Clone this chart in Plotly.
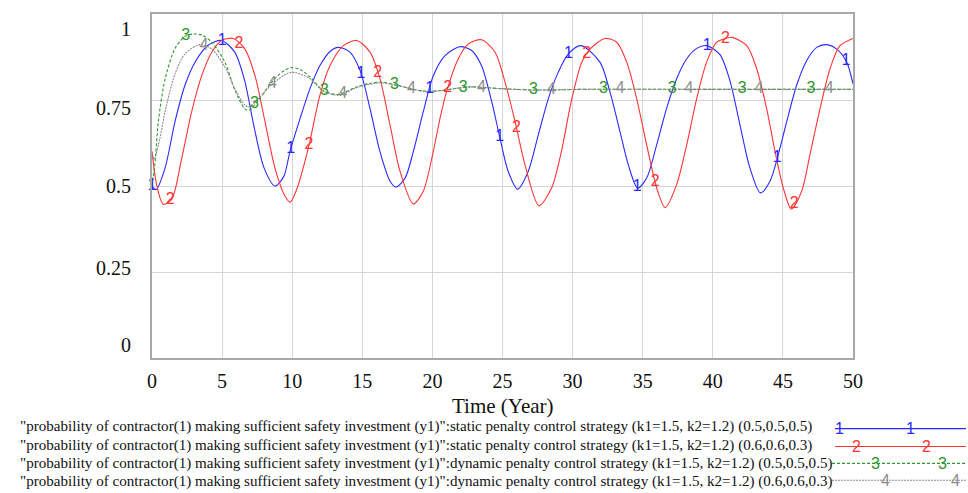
import numpy as np
import plotly.graph_objects as go

# ---------------- data ----------------
blue_t = [0, 0.3, 0.93, 1.64, 2.35, 3.07, 4.0, 4.97, 5.9, 6.6, 7.3, 8.0, 8.77, 9.4, 9.84, 10.56, 11.27,
          11.98, 12.7, 13.3, 14.12, 14.84, 15.55, 16.26, 16.98, 17.4, 18.05, 18.64, 19.35, 20.06, 20.9,
          21.97, 22.8, 23.5, 24.23, 24.82, 25.4, 26.08, 26.84, 27.55, 28.27, 28.98, 29.7, 30.6, 31.95,
          32.67, 33.38, 33.97, 34.64, 35.28, 36.0, 36.7, 37.42, 38.14, 38.85, 39.56, 40.51, 41.23, 41.94,
          42.65, 43.4, 44.08, 44.67, 45.27, 45.98, 46.7, 47.41, 48.1, 48.84, 49.55, 50]
blue_v = [0.50, 0.49, 0.552, 0.687, 0.793, 0.86, 0.909, 0.923, 0.889, 0.808, 0.668, 0.552, 0.50, 0.528,
          0.60, 0.696, 0.783, 0.85, 0.891, 0.903, 0.889, 0.836, 0.725, 0.60, 0.514, 0.497, 0.523, 0.60,
          0.716, 0.82, 0.879, 0.905, 0.894, 0.85, 0.745, 0.639, 0.543, 0.491, 0.543, 0.648, 0.754, 0.831,
          0.884, 0.908, 0.86, 0.773, 0.658, 0.562, 0.494, 0.523, 0.62, 0.725, 0.812, 0.87, 0.90, 0.908,
          0.882, 0.805, 0.677, 0.552, 0.48, 0.514, 0.591, 0.687, 0.793, 0.865, 0.903, 0.911, 0.898, 0.86,
          0.797]

red_t = [0, 0.33, 0.8, 1.4, 2.12, 2.83, 3.54, 4.26, 4.97, 5.8, 6.63, 7.35, 8.06, 8.77, 9.49, 9.85, 10.32,
         11.15, 11.98, 12.7, 13.65, 14.6, 15.55, 16.26, 16.98, 17.69, 18.64, 19.35, 20.06, 20.54, 21.0,
         21.85, 22.56, 23.5, 24.47, 25.18, 25.9, 26.6, 27.6, 28.5, 29.2, 29.9, 30.65, 31.24, 32.3, 33.15,
         33.86, 34.57, 35.28, 36.0, 36.6, 37.42, 38.14, 38.85, 39.56, 40.28, 41.0, 41.4, 42.42, 43.13,
         43.84, 44.44, 45.03, 45.6, 46.34, 46.93, 47.65, 48.36, 49.07, 50]
red_v = [0.60, 0.504, 0.447, 0.461, 0.581, 0.716, 0.82, 0.889, 0.923, 0.929, 0.898, 0.82, 0.687, 0.552,
         0.47, 0.453, 0.49, 0.61, 0.764, 0.85, 0.908, 0.923, 0.889, 0.812, 0.677, 0.543, 0.448, 0.485,
         0.60, 0.696, 0.773, 0.87, 0.913, 0.925, 0.889, 0.802, 0.687, 0.562, 0.443, 0.494, 0.60, 0.745,
         0.86, 0.898, 0.929, 0.918, 0.86, 0.754, 0.62, 0.494, 0.437, 0.504, 0.62, 0.754, 0.86, 0.918,
         0.93, 0.932, 0.908, 0.841, 0.725, 0.60, 0.494, 0.433, 0.485, 0.591, 0.725, 0.841, 0.908, 0.929]

green_t = [0, 0.2, 0.45, 0.93, 1.64, 2.35, 2.95, 3.6, 4.26, 5.2, 5.9, 6.6, 6.9, 7.6, 8.5, 9.4, 9.96, 10.6,
           11.27, 12.2, 13.2, 14.6, 15.5, 16.3, 17.7, 19.3, 20.5, 22.6, 24.9, 27.3, 30.9, 40, 50]
green_v = [0.50, 0.56, 0.687, 0.81, 0.90, 0.935, 0.942, 0.938, 0.918, 0.86, 0.78, 0.725, 0.72, 0.75, 0.80,
           0.835, 0.844, 0.838, 0.817, 0.778, 0.766, 0.788, 0.798, 0.802, 0.791, 0.776, 0.777, 0.788,
           0.783, 0.779, 0.781, 0.781, 0.781]

gray_t = [0, 0.15, 0.57, 0.93, 1.64, 2.35, 3.4, 4.26, 5.2, 5.9, 6.6, 6.9, 7.6, 8.6, 9.7, 10.2, 11.27, 12.2,
          13.4, 14.6, 16.3, 17.7, 19.3, 20.5, 22.6, 24.9, 27.3, 30.9, 40, 50]
gray_v = [0.60, 0.577, 0.64, 0.716, 0.826, 0.884, 0.911, 0.898, 0.846, 0.783, 0.736, 0.73, 0.754, 0.797,
          0.828, 0.83, 0.812, 0.776, 0.764, 0.786, 0.80, 0.79, 0.776, 0.777, 0.788, 0.783, 0.779, 0.781,
          0.781, 0.781]

label_t1 = [0, 5, 9.9, 14.9, 19.8, 24.8, 29.7, 34.6, 39.6, 44.6, 49.5]
label_t2 = [1.3, 6.2, 11.2, 16.1, 21.1, 26, 31, 35.9, 40.9, 45.8]
label_t3 = [2.4, 7.3, 12.3, 17.3, 22.2, 27.2, 32.2, 37.1, 42.1, 47]
label_t4 = [3.7, 8.6, 13.6, 18.5, 23.5, 28.5, 33.4, 38.3, 43.3, 48.3]

x_ticks = [0, 5, 10, 15, 20, 25, 30, 35, 40, 45, 50]
y_tick_labels = ["1", "0.75", "0.5", "0.25", "0"]

prefix = '"probability of contractor(1) making sufficient safety investment (y1)":'
series_names = [
    prefix + "static penalty control strategy (k1=1.5, k2=1.2) (0.5,0.5,0.5)",
    prefix + "static penalty control strategy (k1=1.5, k2=1.2) (0.6,0.6,0.3)",
    prefix + "dynamic penalty control strategy (k1=1.5, k2=1.2) (0.5,0.5,0.5)",
    prefix + "dynamic penalty control strategy (k1=1.5, k2=1.2) (0.6,0.6,0.3)",
]
series_ids = ["1", "2", "3", "4"]

# ---------------- styling ----------------
colors = ["#2a2aff", "#ff3434", "#2e962e", "#8c8c8c"]
dashes = ["solid", "solid", "3px,2px", "2px,1px"]
serif = "Liberation Serif, Times New Roman, serif"
sans = "Liberation Sans, Arial, sans-serif"

W, H = 968, 493
L, R, T, B = 152, 853, 12, 358


def px_x(px):
    return (px - L) / (R - L)


def px_y(py):
    return (B - py) / (B - T)


fig = go.Figure()
series = [(blue_t, blue_v, label_t1), (red_t, red_v, label_t2),
          (green_t, green_v, label_t3), (gray_t, gray_v, label_t4)]
for i, (tt, vv, lt) in enumerate(series):
    fig.add_trace(go.Scatter(x=tt, y=vv, mode="lines", name=series_names[i],
                             line=dict(color=colors[i], width=1.1, dash=dashes[i],
                                       shape="spline", smoothing=0.8),
                             showlegend=False, hoverinfo="skip"))
for i, (tt, vv, lt) in enumerate(series):
    ly = np.interp(lt, tt, vv)
    fig.add_trace(go.Scatter(x=lt, y=ly, mode="text", text=[series_ids[i]] * len(lt),
                             textfont=dict(family=sans, size=16, color=colors[i]),
                             textposition="middle center", showlegend=False, hoverinfo="skip",
                             cliponaxis=False))

annotations = []
shapes = []

# y tick labels (Vensim-style placement)
ylab_px = [27, 107, 185, 267, 345]
for txt, py in zip(y_tick_labels, ylab_px):
    annotations.append(dict(text=txt, xref="paper", yref="paper", x=px_x(133), y=px_y(py),
                            xanchor="right", yanchor="middle", showarrow=False,
                            font=dict(family=serif, size=20, color="#111")))

# x axis title
annotations.append(dict(text="Time (Year)", xref="paper", yref="paper", x=px_x(503), y=px_y(406),
                        xanchor="center", yanchor="middle", showarrow=False,
                        font=dict(family=serif, size=21, color="#111")))

# legend rows
row_y = [427, 446, 464, 482]
key_y = [429, 447, 464, 481]
key_start = [835, 835, 832, 832]
key_labels_x = [(839, 910), (857, 927), (875, 943), (885, 955)]
for i in range(4):
    annotations.append(dict(text=series_names[i], xref="paper", yref="paper",
                            x=px_x(18), y=px_y(row_y[i]), xanchor="left", yanchor="middle",
                            showarrow=False, font=dict(family=serif, size=15.1, color="#111")))
    shapes.append(dict(type="line", xref="paper", yref="paper",
                       x0=px_x(key_start[i]), x1=px_x(966), y0=px_y(key_y[i]), y1=px_y(key_y[i]),
                       line=dict(color=colors[i], width=1.1, dash=dashes[i])))
    for kx in key_labels_x[i]:
        annotations.append(dict(text=series_ids[i], xref="paper", yref="paper", x=px_x(kx),
                                y=px_y(key_y[i]), xanchor="center", yanchor="middle", showarrow=False,
                                font=dict(family=sans, size=16, color=colors[i])))

fig.update_layout(
    width=W, height=H,
    margin=dict(l=L, r=W - R, t=T, b=H - B),
    paper_bgcolor="white", plot_bgcolor="white",
    showlegend=False,
    annotations=annotations, shapes=shapes,
    xaxis=dict(range=[0, 50], tickvals=x_ticks, ticktext=[str(v) for v in x_ticks],
               showgrid=True, gridcolor="#d6d6d6", gridwidth=1, zeroline=False,
               showline=True, linecolor="#a8a8a8", linewidth=1.5, mirror=True,
               ticks="", ticklabelstandoff=4,
               tickfont=dict(family=serif, size=20, color="#111")),
    yaxis=dict(range=[0, 1], tickvals=[0, 0.25, 0.5, 0.75, 1], showticklabels=False,
               showgrid=True, gridcolor="#d6d6d6", gridwidth=1, zeroline=False,
               showline=True, linecolor="#a8a8a8", linewidth=1.5, mirror=True, ticks=""),
)

fig.write_html("out.html", config={"displayModeBar": False},
               post_script="document.body.style.margin='0';document.body.style.overflow='hidden';")
